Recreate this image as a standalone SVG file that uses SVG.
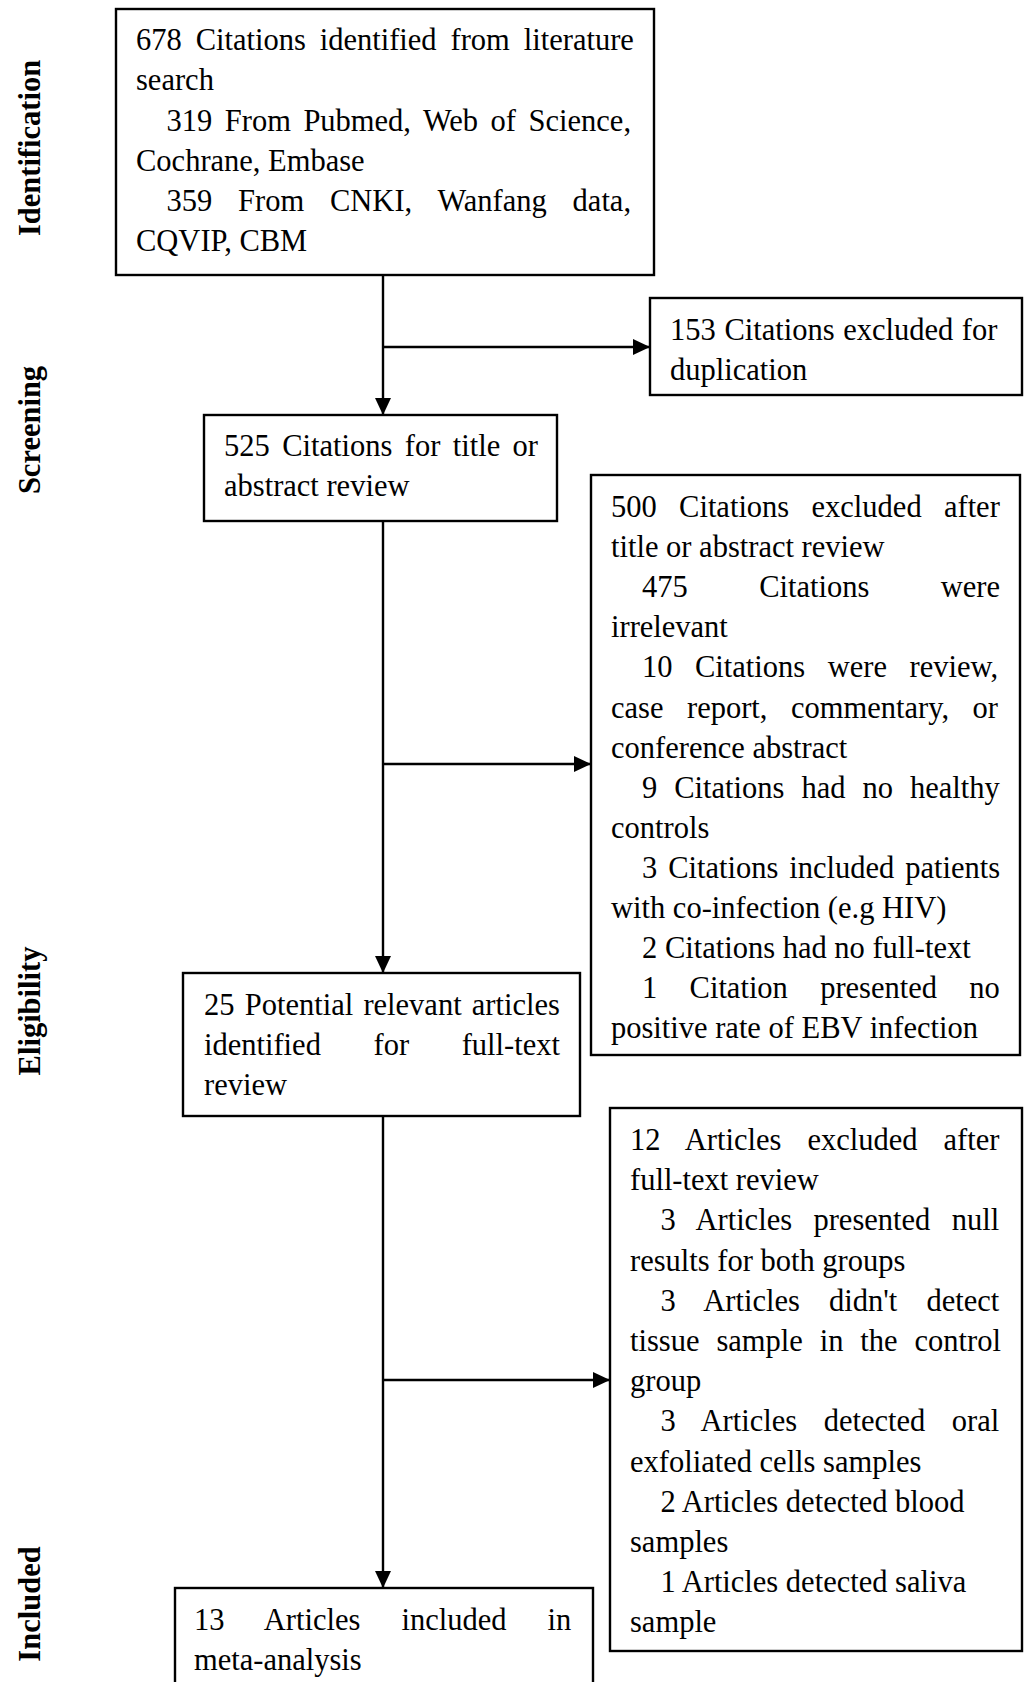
<svg xmlns="http://www.w3.org/2000/svg" width="1026" height="1682" viewBox="0 0 1026 1682">
<style>
.box{fill:#fff;stroke:#000;stroke-width:2.4}
.t{font-family:"Liberation Serif","Times New Roman",serif;font-size:30.5px;fill:#000}
.lbl{font-family:"Liberation Serif","Times New Roman",serif;font-size:30.5px;font-weight:bold;fill:#000}
.conn{stroke:#000;stroke-width:2.4;fill:none}
</style>
<defs>
<marker id="ah" viewBox="0 0 17 16" refX="17" refY="8" markerWidth="17" markerHeight="16" markerUnits="userSpaceOnUse" orient="auto">
<path d="M0,0 L17,8 L0,16 Z" fill="#000"/>
</marker>
</defs>
<rect width="1026" height="1682" fill="#fff"/>

<g id="stage-labels">
<text class="lbl" text-anchor="middle" transform="translate(40,148) rotate(-90)">Identification</text>
<text class="lbl" text-anchor="middle" transform="translate(40,430) rotate(-90)">Screening</text>
<text class="lbl" text-anchor="middle" transform="translate(40,1011) rotate(-90)">Eligibility</text>
<text class="lbl" text-anchor="middle" transform="translate(40,1604) rotate(-90)">Included</text>
</g>

<g id="connectors">
<line class="conn" x1="383" y1="275" x2="383" y2="415" marker-end="url(#ah)"/>
<line class="conn" x1="383" y1="347" x2="650" y2="347" marker-end="url(#ah)"/>
<line class="conn" x1="383" y1="521" x2="383" y2="973" marker-end="url(#ah)"/>
<line class="conn" x1="383" y1="764" x2="591" y2="764" marker-end="url(#ah)"/>
<line class="conn" x1="383" y1="1116" x2="383" y2="1588" marker-end="url(#ah)"/>
<line class="conn" x1="383" y1="1380" x2="610" y2="1380" marker-end="url(#ah)"/>
</g>

<g id="node-identified">
<rect class="box" x="116" y="9" width="538" height="266"/>
<text class="t" x="136" y="50" word-spacing="6.3">678 Citations identified from literature</text>
<text class="t" x="136" y="90.2">search</text>
<text class="t" x="166.5" y="130.5" word-spacing="4.9">319 From Pubmed, Web of Science,</text>
<text class="t" x="136" y="170.7">Cochrane, Embase</text>
<text class="t" x="166.5" y="211" word-spacing="18.2">359 From CNKI, Wanfang data,</text>
<text class="t" x="136" y="251.2">CQVIP, CBM</text>
</g>

<g id="node-duplicates">
<rect class="box" x="650" y="298" width="372" height="97"/>
<text class="t" x="670" y="340" word-spacing="1">153 Citations excluded for</text>
<text class="t" x="670" y="380.2">duplication</text>
</g>

<g id="node-screened">
<rect class="box" x="204" y="415" width="353" height="106"/>
<text class="t" x="224" y="456" word-spacing="4.8">525 Citations for title or</text>
<text class="t" x="224" y="496.2">abstract review</text>
</g>

<g id="node-excluded-abstract">
<rect class="box" x="591" y="475" width="429" height="580"/>
<text class="t" x="611" y="517" word-spacing="14.7">500 Citations excluded after</text>
<text class="t" x="611" y="557.1">title or abstract review</text>
<text class="t" x="642" y="597.2" word-spacing="63.8">475 Citations were</text>
<text class="t" x="611" y="637.3">irrelevant</text>
<text class="t" x="642" y="677.4" word-spacing="14.9">10 Citations were review,</text>
<text class="t" x="611" y="717.5" word-spacing="15.9">case report, commentary, or</text>
<text class="t" x="611" y="757.6">conference abstract</text>
<text class="t" x="642" y="797.7" word-spacing="9.4">9 Citations had no healthy</text>
<text class="t" x="611" y="837.8">controls</text>
<text class="t" x="642" y="877.9" word-spacing="3.3">3 Citations included patients</text>
<text class="t" x="611" y="918">with co-infection (e.g HIV)</text>
<text class="t" x="642" y="958.1">2 Citations had no full-text</text>
<text class="t" x="642" y="998.2" word-spacing="24.7">1 Citation presented no</text>
<text class="t" x="611" y="1038.3">positive rate of EBV infection</text>
</g>

<g id="node-fulltext">
<rect class="box" x="183" y="973" width="397" height="143"/>
<text class="t" x="204" y="1015" word-spacing="2.6">25 Potential relevant articles</text>
<text class="t" x="204" y="1055.2" word-spacing="45">identified for full-text</text>
<text class="t" x="204" y="1095.4">review</text>
</g>

<g id="node-excluded-fulltext">
<rect class="box" x="610" y="1108" width="412" height="543"/>
<text class="t" x="630" y="1150" word-spacing="18.4">12 Articles excluded after</text>
<text class="t" x="630" y="1190.2">full-text review</text>
<text class="t" x="660.5" y="1230.4" word-spacing="13.8">3 Articles presented null</text>
<text class="t" x="630" y="1270.6">results for both groups</text>
<text class="t" x="660.5" y="1310.8" word-spacing="21.6">3 Articles didn't detect</text>
<text class="t" x="630" y="1351" word-spacing="9.3">tissue sample in the control</text>
<text class="t" x="630" y="1391.2">group</text>
<text class="t" x="660.5" y="1431.4" word-spacing="18.9">3 Articles detected oral</text>
<text class="t" x="630" y="1471.6">exfoliated cells samples</text>
<text class="t" x="660.5" y="1511.8">2 Articles detected blood</text>
<text class="t" x="630" y="1552">samples</text>
<text class="t" x="660.5" y="1592.2">1 Articles detected saliva</text>
<text class="t" x="630" y="1632.4">sample</text>
</g>

<g id="node-included">
<rect class="box" x="175" y="1588" width="418" height="120"/>
<text class="t" x="194" y="1630" word-spacing="33.4">13 Articles included in</text>
<text class="t" x="194" y="1670.2">meta-analysis</text>
</g>
</svg>
